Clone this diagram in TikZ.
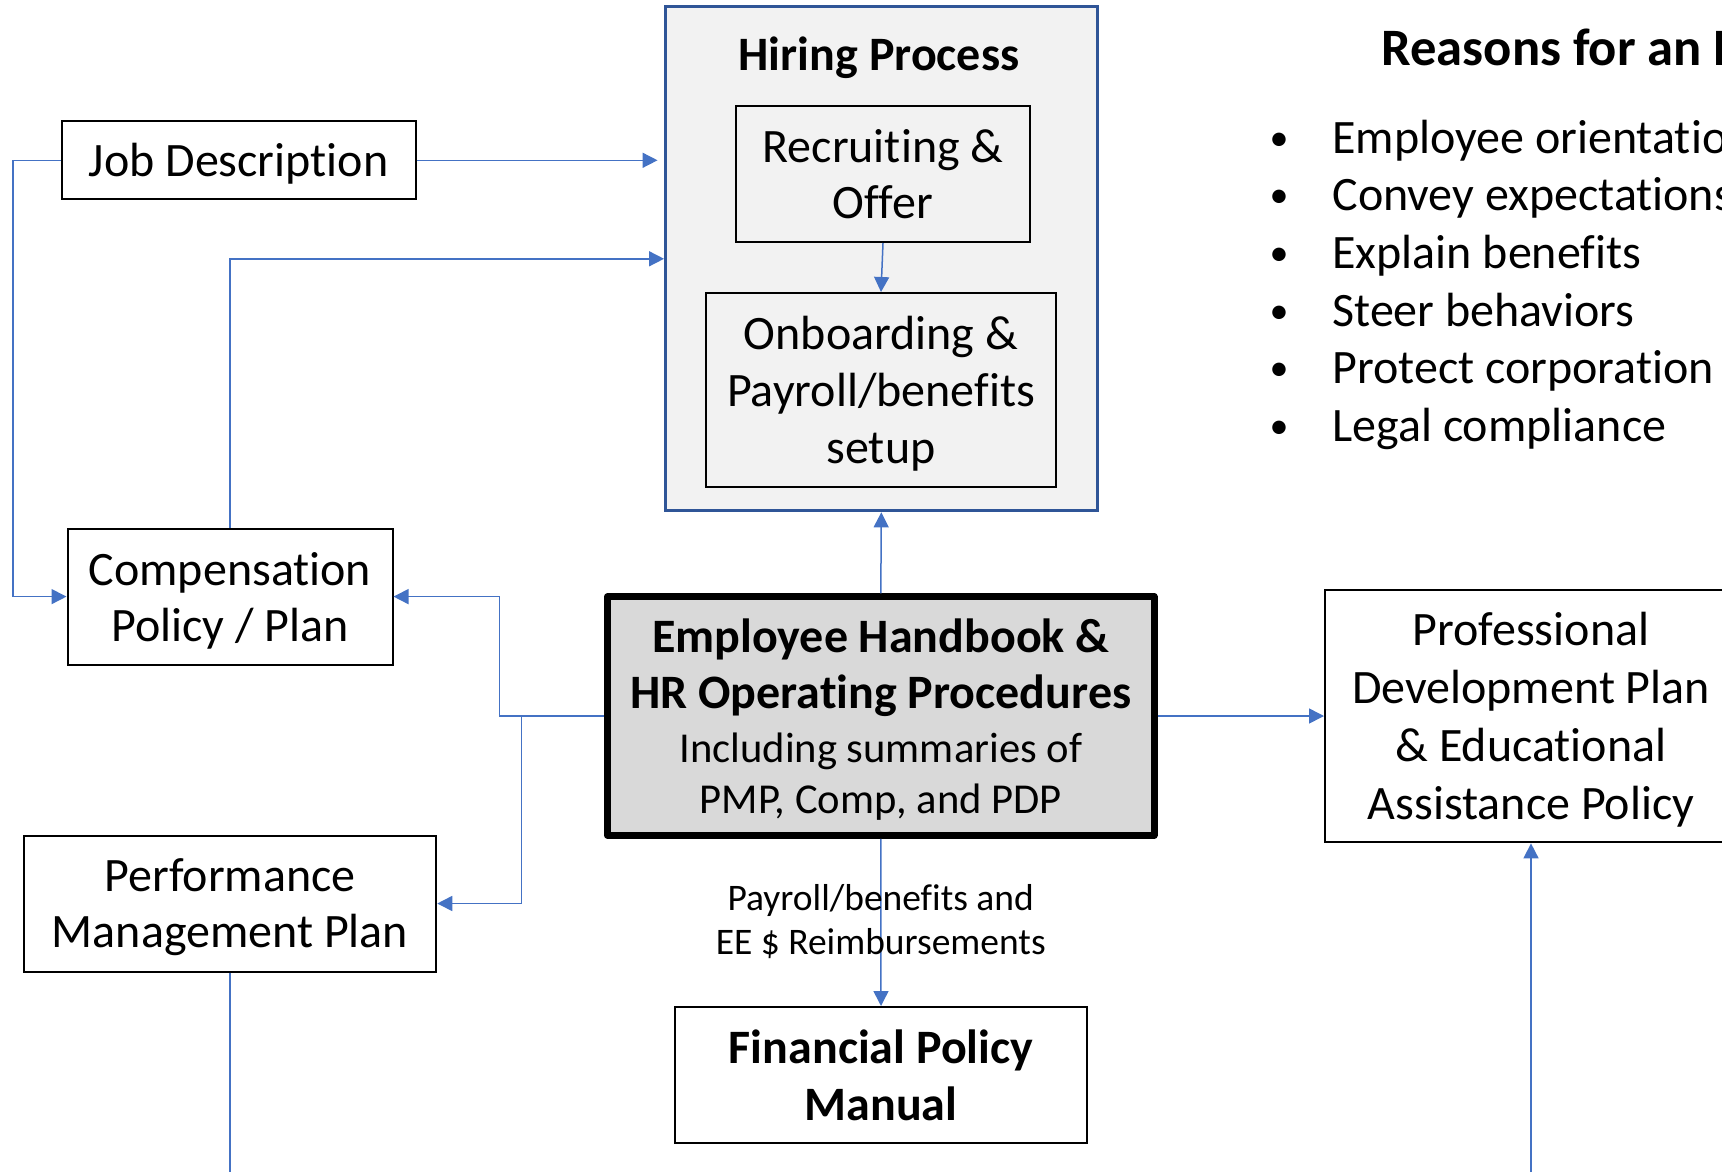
\documentclass[tikz,border=0pt]{standalone}
\usepackage{fontspec}
\setmainfont{Carlito}[Ligatures=NoCommon]
\usetikzlibrary{arrows.meta, positioning, calc}

\definecolor{linkblue}{HTML}{4472C4}
\definecolor{hireblue}{HTML}{2F5597}
\definecolor{hirefill}{HTML}{F2F2F2}
\definecolor{hbfill}{HTML}{D9D9D9}

\newcommand{\boxfont}{\fontsize{24}{28}\selectfont}
\newcommand{\boldfont}{\fontsize{24}{28.5}\selectfont\bfseries}
\newcommand{\hbsmall}{\fontsize{21.3}{26}\selectfont\mdseries}

\tikzset{
    plainbox/.style={draw=black, line width=1pt, fill=white, inner sep=0pt, align=center,
                     text depth=0pt, font=\boxfont},
    link/.style={draw=linkblue, line width=0.75pt},
    listtext/.style={inner sep=0pt, font=\boxfont},
}

\begin{document}
\begin{tikzpicture}[x=0.5pt, y=-0.5pt, >={Triangle[length=7.5pt,width=7.5pt]}]
    \useasboundingbox (0,0) rectangle (1722,1172);
    \clip (0,0) rectangle (1722,1172);

    % Hiring Process group
    \node[draw=hireblue, line width=1.5pt, fill=hirefill, inner sep=0pt,
          minimum width=215.75pt, minimum height=252pt] (hiring) at (881.3,258.8) {};
    \node[inner sep=0pt, font=\boldfont, anchor=base] (hiretitle) at (879,70.3) {Hiring Process};
    \node[plainbox, fill=hirefill, minimum width=147pt, minimum height=68pt] (recruit) at (883,174) {Recruiting \&\\Offer};
    \node[plainbox, fill=hirefill, minimum width=175pt, minimum height=97pt,
          font=\fontsize{24}{28.5}\selectfont] (onboard) at (881,390) {Onboarding \&\\Payroll/benefits\\setup};

    % Left column
    \node[plainbox, minimum width=177pt, minimum height=39pt] (jobdesc) at (238.6,160.3) {Job Description};
    \node[plainbox, minimum width=162.5pt, minimum height=68pt] (comp) at (230,596.6) {Compensation\\Policy / Plan};
    \node[plainbox, minimum width=206.25pt, minimum height=68pt] (perf) at (230,903.5) {Performance\\Management Plan};

    % Handbook
    \node[draw=black, line width=3.5pt, line join=round, fill=hbfill, inner sep=0pt, align=center,
          text depth=0pt, font=\fontsize{24}{28}\selectfont\bfseries,
          minimum width=273.25pt, minimum height=119.25pt] (handbook) at (880.8,716)
          {Employee Handbook \&\\HR Operating Procedures\\[-1pt]\hbsmall Including summaries of\\[-2.5pt]\hbsmall PMP, Comp, and PDP};

    % Right and bottom
    \node[plainbox, minimum width=206pt, minimum height=126.35pt,
          font=\fontsize{24}{29}\selectfont] (pdp) at (1531,716)
          {Professional\\Development Plan\\\& Educational\\Assistance Policy};
    \node[plainbox, font=\boldfont, minimum width=206pt, minimum height=68pt] (financial) at (881,1075) {Financial Policy\\Manual};

    % Reasons list
    \node[inner sep=0pt, font=\fontsize{26.3}{31}\selectfont\bfseries, anchor=base west] (reasons) at (1381,65.4) {Reasons for an Employee Handbook};
    \foreach \reason [count=\i] in {Employee orientation, Convey expectations, Explain benefits,
                                   Steer behaviors, Protect corporation, Legal compliance}{
        \node[inner sep=0pt, font=\fontsize{19}{20}\selectfont, anchor=base] (dot\i) at (1279, 95.6+57.6*\i) {\raisebox{1.5pt}{\textbullet}};
        \node[listtext, anchor=base west] (reason\i) at (1332, 95.6+57.6*\i) {\reason};
    }

    % Connectors
    \coordinate (split) at ($(handbook.west)+(-82.5,0)$);
    \coordinate (pdpin) at (1531,1172);
    \coordinate (perfout) at (230,1172);

    \draw[link,->] (jobdesc.west) -- ++(-47.8,0) |- (comp.west);
    \draw[link,->,shorten >=3.25pt] (jobdesc.east) -- (jobdesc.east -| hiring.west);
    \draw[link,->] (comp.north) |- (hiring.west);
    \draw[link,->] (recruit.south) -- (onboard.north);
    \draw[link,->] (handbook.north) -- (hiring.south);
    \draw[link,->] (handbook.west) -- ++(-104.5,0) |- (comp.east);
    \draw[link,->] (split) |- (perf.east);
    \draw[link,->] (handbook.east) -- (pdp.west);
    \draw[link,->] (handbook.south) -- (financial.north);
    \node[inner sep=0pt, align=center, font=\fontsize{18.75}{22}\selectfont] (paylabel) at (880.7,921.5)
         {Payroll/benefits and\\EE \$ Reimbursements};
    \draw[link,->] (pdpin) -- (pdp.south);
    \draw[link] (perf.south) -- (perfout);
\end{tikzpicture}
\end{document}
